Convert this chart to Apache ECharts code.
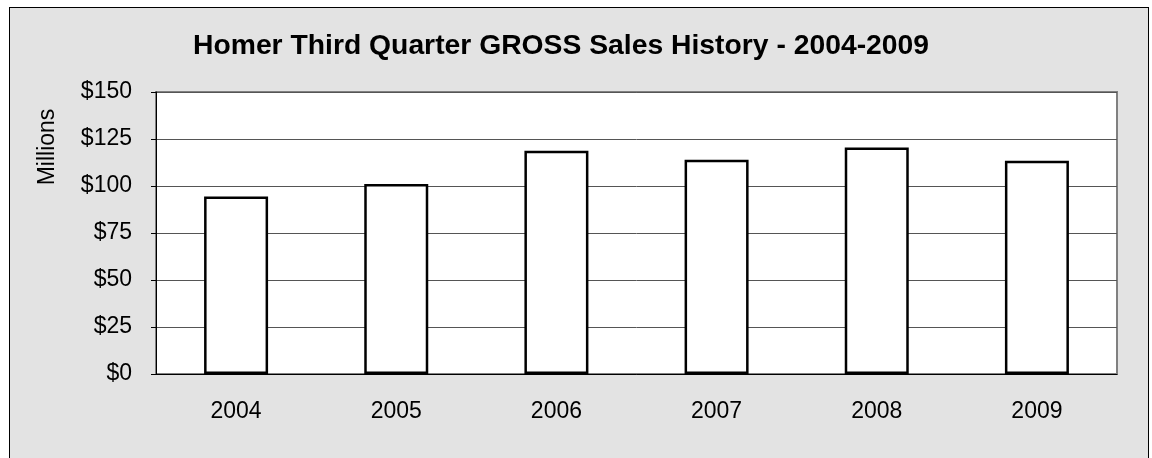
<!DOCTYPE html>
<html>
<head>
<meta charset="utf-8">
<script src="https://cdn.jsdelivr.net/npm/echarts@6/dist/echarts.min.js"></script>
<style>
  html, body { margin: 0; padding: 0; background: #fff; }
  #frame {
    position: absolute; left: 9px; top: 7px; width: 1138px; height: 470px;
    background: #e3e3e3; border: 1px solid #000;
  }
  #vis { position: absolute; left: 0; top: 0; width: 1152px; height: 458px; }
</style>
</head>
<body>
<div id="frame"></div>
<div id="vis"></div>
<script>
// data
const years = ["2004", "2005", "2006", "2007", "2008", "2009"];
const salesMillions = [94.4, 101.1, 118.7, 113.9, 120.5, 113.4];
const yTicks = [0, 25, 50, 75, 100, 125, 150];

const chart = echarts.init(document.getElementById("vis"));
const font = "Liberation Sans, Arial, sans-serif";

const options = {
  animation: false,
  textStyle: { fontFamily: font },
  grid: {
    left: 156, top: 92, right: 35, bottom: 84,
    show: true, backgroundColor: "#fff",
    borderColor: "#808080", borderWidth: 2
  },
  graphic: [
    {
      type: "text", x: 561, y: 46,
      style: {
        text: "Homer Third Quarter GROSS Sales History - 2004-2009",
        font: "bold 28.3px " + font, fill: "#000",
        textAlign: "center", textVerticalAlign: "middle"
      }
    },
    {
      type: "text", x: 48, y: 147, rotation: Math.PI / 2,
      style: {
        text: "Millions", font: "23px " + font, fill: "#000",
        textAlign: "center", textVerticalAlign: "middle"
      }
    }
  ],
  xAxis: {
    type: "category",
    data: years,
    axisLine: { lineStyle: { color: "#000", width: 1 } },
    axisTick: { length: 5, lineStyle: { color: "#000" } },
    axisLabel: { color: "#000", fontSize: 23, margin: 26 }
  },
  yAxis: {
    type: "value",
    min: yTicks[0],
    max: yTicks[yTicks.length - 1],
    interval: 25,
    axisLine: { show: true, lineStyle: { color: "#000", width: 1 } },
    axisTick: { show: true, length: 5, lineStyle: { color: "#000" } },
    axisLabel: {
      color: "#000", fontSize: 23, margin: 24,
      formatter: v => "$" + v
    },
    splitLine: { lineStyle: { color: "#555", width: 1 } }
  },
  series: [
    {
      type: "bar",
      data: salesMillions,
      barWidth: 64,
      itemStyle: { color: "#fff", borderColor: "#000", borderWidth: 2.5 }
    }
  ]
};

chart.setOption(options);
</script>
</body>
</html>
